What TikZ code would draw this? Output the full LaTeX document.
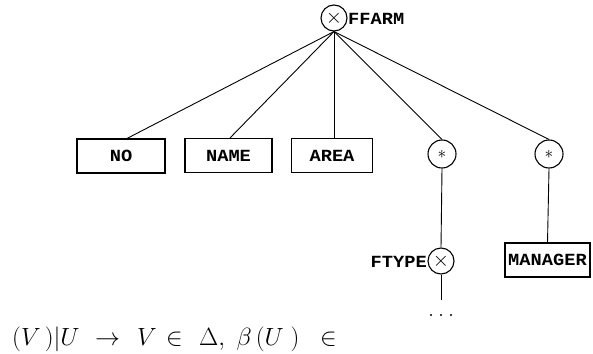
\documentclass[tikz,border=0pt]{standalone}
\usepackage{fontspec}
\newfontfamily\boxfont[FakeStretch=1.1]{Liberation Mono}
\begin{document}
\begin{tikzpicture}[x=1pt,y=-1pt,
  lbl/.style={font=\boxfont\bfseries\fontsize{17}{17}\selectfont, inner sep=0pt},
  attr/.style={draw, line width=1.1pt, minimum height=34pt, inner sep=0pt, font=\boxfont\bfseries\fontsize{17}{17}\selectfont},
  op/.style={draw, circle, line width=1.1pt, minimum size=26pt, inner sep=0pt},
  edge/.style={line width=0.9pt},
  mth/.style={anchor=base west, inner sep=0pt, font=\fontsize{24}{24}\selectfont},
  dot/.style={circle, fill, inner sep=0pt, minimum size=2.4pt}]
\useasboundingbox (0,0) rectangle (593,353);
% root
\node[op] (root) at (334,18) {\fontsize{22}{22}\selectfont$\times$};
\node[lbl, anchor=west] (ffarm) at (348,19) {FFARM};
% boxes
\node[attr, minimum width=88pt] (no) at (121,156) {NO};
\node[attr, minimum width=87pt] (name) at (228.5,155.5) {NAME};
\node[attr, minimum width=81pt] (area) at (332,155.5) {AREA};
\node[op, minimum size=28pt] (s1) at (442,154) {\bfseries\fontsize{16}{16}\selectfont$\ast$};
\node[op, minimum size=28pt] (s2) at (549,154) {\bfseries\fontsize{16}{16}\selectfont$\ast$};
\node[op] (ft) at (441,261) {\fontsize{22}{22}\selectfont$\times$};
\node[lbl, anchor=east] (ftype) at (427,262) {FTYPE};
\node[attr, minimum width=85pt] (mgr) at (547.5,260) {MANAGER};
\coordinate (ftend) at (441,300);
\node[dot] (d1) at (431,315) {};
\node[dot] (d2) at (441,315) {};
\node[dot] (d3) at (451,315) {};
% edges
\draw[edge] (root.south) -- ([xshift=6pt]no.north);
\draw[edge] (root.south) -- ([xshift=1.5pt]name.north);
\draw[edge] (root.south) -- ([xshift=2pt]area.north);
\draw[edge] (root.south) -- (s1.north);
\draw[edge] (root.south) -- (s2.north);
\draw[edge] (s1.south) -- (ft.north);
\draw[edge] (s2.south) -- (mgr.north);
\draw[edge] (ft.south) -- (ftend);
% formula
\node[mth] (f1) at (12,345) {$(V\,)|U$};
\node[mth] (f2) at (95,345) {$\rightarrow$};
\node[mth] (f3) at (137,345) {$V$};
\node[mth] (f4) at (166,345) {$\in$};
\node[mth] (f5) at (199,345) {$\Delta,\ \beta\,(U\;)$};
\node[mth] (f6) at (320,345) {$\in$};
\end{tikzpicture}
\end{document}
